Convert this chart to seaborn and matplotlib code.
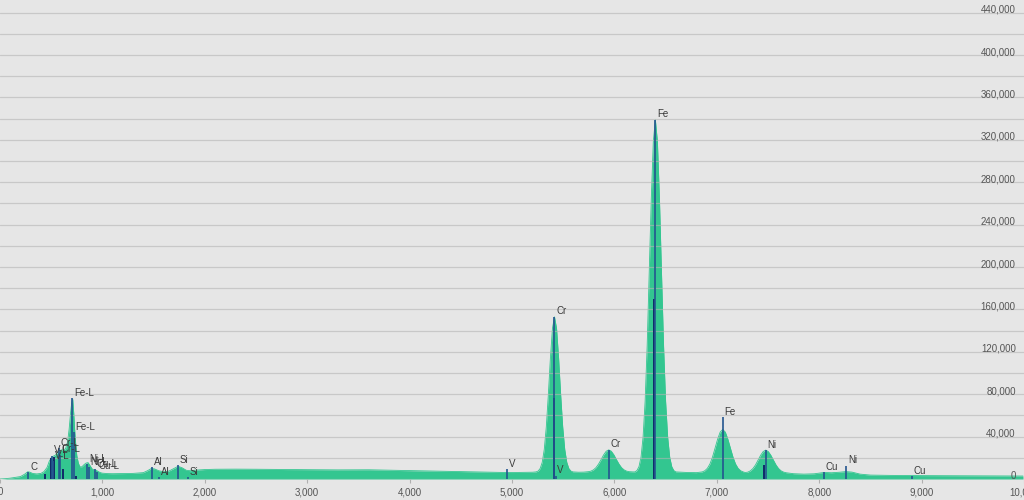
import matplotlib
matplotlib.use('Agg')
import matplotlib.pyplot as plt
import matplotlib.transforms as mtransforms
import pandas as pd
import seaborn as sns

# Spectrum: energy (eV) and counts
energy_ev = [
    0, 50, 100, 150, 200, 240, 270, 290, 320, 360, 400, 430, 460, 480, 500,
    520, 540, 560, 580, 600, 620, 640, 660, 675, 690, 700, 710, 720, 730, 740,
    750, 765, 780, 800, 820, 840, 860, 880, 900, 920, 940, 960, 980, 1000,
    1050, 1100, 1200, 1300, 1400, 1440, 1480, 1510, 1550, 1600, 1650, 1700,
    1740, 1780, 1820, 1860, 1900, 2000, 2100, 2300, 2500, 2800, 3000, 3300,
    3600, 3700, 3900, 4200, 4500, 4700, 4900, 5000, 5100, 5200,
    5235, 5255, 5275, 5295, 5315, 5335, 5355, 5375, 5395, 5415, 5435, 5455,
    5475, 5495, 5515, 5535, 5555, 5575, 5595, 5650, 5700,
    5745, 5770, 5795, 5820, 5845, 5870, 5895, 5920, 5945, 5970, 5995, 6020,
    6045, 6070, 6095, 6120, 6145, 6180, 6200,
    6220, 6240, 6260, 6280, 6300, 6320, 6340, 6360, 6380, 6400, 6420, 6440,
    6460, 6480, 6500, 6520, 6540, 6560, 6580, 6600, 6700, 6800,
    6858, 6883, 6908, 6933, 6958, 6983, 7008, 7033, 7058, 7083, 7108, 7133,
    7158, 7183, 7208, 7233, 7258, 7278,
    7303, 7328, 7353, 7378, 7403, 7428, 7453, 7478, 7503, 7528, 7553, 7578,
    7603, 7628, 7653, 7678, 7750, 7850, 7950, 8000, 8050, 8120, 8200, 8260,
    8320, 8400, 8500, 8700, 9000, 9500, 9990,
]
counts = [
    0, 300, 800, 1500, 2300, 4500, 6800, 6500, 5200, 4800, 5300, 7000, 11000, 16500, 20000,
    21500, 22500, 24500, 26500, 27500, 27500, 28500, 35000, 47000, 63000, 72000, 75500, 62000, 45000, 32000,
    22000, 15000, 11500, 11500, 13500, 15000, 15500, 12500, 9500, 8500, 8200, 7000, 6000, 5500,
    5100, 5000, 5100, 5300, 6000, 7800, 10000, 9500, 7800, 6800, 7500, 10000,
    12000, 10500, 8200, 7800, 8300, 8900, 9200, 9300, 9200, 8900, 8800, 8600,
    8700, 8500, 8000, 7500, 7000, 6600, 6200, 6100, 6200, 6400,
    6700, 7500, 9900, 15700, 27900, 49300, 79900, 114200, 142200, 153000, 142200, 114200,
    79900, 49300, 27900, 15700, 9900, 7500, 6700, 6400, 6500,
    6900, 7400, 8600, 10700, 14100, 18300, 22800, 26200, 27500, 26200, 22800, 18300,
    14100, 10700, 8600, 7400, 6900, 6700, 6700,
    8000, 11700, 20700, 39600, 73300, 125900, 193500, 264000, 318400, 339000, 318400, 264000,
    193500, 125900, 73300, 39600, 20700, 11700, 8000, 6700, 6200, 6000,
    6700, 7800, 10100, 14200, 20700, 29000, 37600, 44300, 46800, 44300, 37600, 29000,
    20700, 14200, 10100, 7800, 6700, 6100,
    6500, 7700, 9900, 13300, 17800, 22400, 25900, 27300, 25900, 22400, 17800, 13300,
    9900, 7700, 6500, 5900, 5000, 4600, 4900, 5600, 6200, 5900, 6400, 7000,
    6500, 4600, 3700, 3400, 3200, 3000, 2800,
]

# Element line markers with labels: name, energy (eV), marker height
line_names = ['C', 'V-L', 'Cr-L', 'V-L', 'Cr-L', 'Fe-L', 'Fe-L', 'Ni-L', 'Ni-L',
              'Cu-L', 'Cu-L', 'Al', 'Al', 'Si', 'Si', 'V', 'Cr', 'V', 'Cr',
              'Fe', 'Fe', 'Ni', 'Cu', 'Ni', 'Cu']
line_energy = [277, 511, 573, 519, 583, 705, 718, 851, 869,
               930, 950, 1487, 1557, 1740, 1836, 4952, 5415, 5427, 5947,
               6400, 7058, 7478, 8048, 8265, 8905]
line_height = [6500, 22000, 29000, 17000, 23000, 76000, 44000, 14000, 11000,
               9000, 7000, 11000, 1500, 13000, 1500, 9000, 153000, 3000, 27500,
               339000, 58500, 27300, 6500, 12500, 2500]

# Unlabelled secondary lines (drawn darker)
minor_energy = [440, 500, 525, 615, 742, 5406, 6391, 7461]
minor_height = [5000, 20000, 21000, 9000, 3000, 76000, 170000, 13000]

x_ticks = [0, 1000, 2000, 3000, 4000, 5000, 6000, 7000, 8000, 9000, 10000]
y_labels = [0, 40000, 80000, 120000, 160000, 200000, 240000, 280000, 320000, 360000, 400000, 440000]

df = pd.DataFrame({'energy': energy_ev, 'counts': counts})

bg = '#e6e6e6'
green = '#33c690'
sns.set_theme(style='whitegrid', rc={
    'axes.facecolor': bg,
    'figure.facecolor': bg,
    'grid.color': '#b4b4b4',
    'grid.alpha': 0.6,
    'grid.linewidth': 0.9,
    'axes.edgecolor': bg,
})
plt.rcParams['font.family'] = ['Liberation Sans', 'DejaVu Sans']

fig = plt.figure(figsize=(10.24, 5.0), dpi=100)
ax = fig.add_axes([0, 21 / 500, 1, 479 / 500])

# Filled spectrum
ax.fill_between(df['energy'], df['counts'], color=green, linewidth=0, zorder=1)
sns.lineplot(data=df, x='energy', y='counts', ax=ax, color=green, linewidth=0.6, zorder=1)

# Marker lines
ax.vlines(minor_energy, 0, minor_height, color='#102a68', linewidth=1.4, zorder=3)
ax.vlines(line_energy, 0, line_height, color='#24558f', linewidth=1.2, zorder=3)
for name, e, h in zip(line_names, line_energy, line_height):
    ax.annotate(name, (e, h), xytext=(1.2, 0.3), textcoords='offset points',
                ha='left', va='bottom', fontsize=7, color='#3a3a3a', zorder=4)

ax.set_xlim(0, 9990)
ax.set_ylim(0, 452000)
ax.set_axisbelow(False)

# Horizontal grid every 20,000, labels every 40,000 inside on the right
ax.set_yticks(range(0, 460000, 20000))
ax.tick_params(axis='y', left=False, right=False, labelleft=False, labelright=False)
ax.grid(axis='x', visible=False)
ax.grid(axis='y', visible=True)
trans = mtransforms.blended_transform_factory(ax.transAxes, ax.transData)
for v in y_labels:
    ax.text(0.992, v, f'{v:,}', transform=trans, ha='right', va='baseline',
            fontsize=7, color='#555555', zorder=4)

ax.set_xticks(x_ticks)
ax.set_xticklabels([f'{t:,}' for t in x_ticks])
ax.tick_params(axis='x', bottom=True, length=3, width=0.8, color='#b0b0b0',
               pad=3, labelsize=7, labelcolor='#555555')
ax.set_xlabel('')
ax.set_ylabel('')
for s in ax.spines.values():
    s.set_visible(False)

fig.savefig('out.png', dpi=100, facecolor=bg)
